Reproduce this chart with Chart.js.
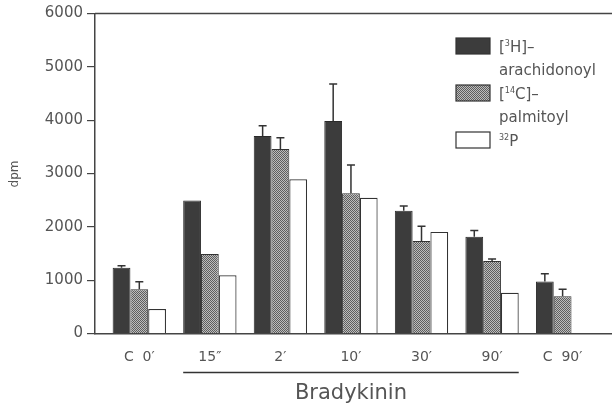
<!DOCTYPE html>
<html>
<head>
<meta charset="utf-8">
<script src="https://cdn.jsdelivr.net/npm/chart.js@4"></script>
<style>
  html, body { margin: 0; padding: 0; background: #fff; }
  #wrap { width: 612px; height: 409px; position: relative; }
</style>
</head>
<body>
<div id="wrap"><canvas id="grafico" width="612" height="409"></canvas></div>
<script>
// Categorias e valores (dpm)
const categorias = ["C  0\u2032", "15\u2033", "2\u2032", "10\u2032", "30\u2032", "90\u2032", "C  90\u2032"];
const arachidonoyl = [1235, 2495, 3705, 3985, 2300, 1815, 975];
const arachidonoylErro = [1270, null, 3895, 4680, 2390, 1930, 1120];
const palmitoyl = [830, 1490, 3460, 2630, 1735, 1360, 700];
const palmitoylErro = [970, null, 3670, 3160, 2010, 1395, 830];
const fosforo = [460, 1090, 2890, 2545, 1905, 765, null];
const yTicks = [0, 1000, 2000, 3000, 4000, 5000, 6000];

const corTexto = '#555';
const fonte = '"DejaVu Sans", sans-serif';

// Textura pontilhada para a série palmitoyl
function criaTextura() {
  const c = document.createElement('canvas');
  c.width = 2; c.height = 2;
  const ctx = c.getContext('2d');
  ctx.fillStyle = '#bdbdbd';
  ctx.fillRect(0, 0, 2, 2);
  ctx.fillStyle = '#5e5e5e';
  ctx.fillRect(0, 0, 1, 1);
  ctx.fillRect(1, 1, 1, 1);
  return ctx.createPattern(c, 'repeat');
}
const textura = criaTextura();

const pontos = arr => arr.map((v, i) => ({ x: i, y: v }));

// Barras de erro (somente para cima) desenhadas com as escalas do gráfico
const barrasErro = {
  id: 'barrasErro',
  afterDatasetsDraw(chart) {
    const ctx = chart.ctx;
    const y = chart.scales.y;
    const erros = [arachidonoylErro, palmitoylErro];
    ctx.save();
    ctx.strokeStyle = '#333';
    ctx.lineWidth = 1.5;
    erros.forEach((lista, d) => {
      const meta = chart.getDatasetMeta(d);
      lista.forEach((e, i) => {
        if (e == null) return;
        const bar = meta.data[i];
        const top = y.getPixelForValue(e);
        ctx.beginPath();
        ctx.moveTo(bar.x, bar.y);
        ctx.lineTo(bar.x, top);
        ctx.moveTo(bar.x - 4, top);
        ctx.lineTo(bar.x + 4, top);
        ctx.stroke();
      });
    });
    ctx.restore();
  }
};

// Moldura superior, legenda e rótulo "Bradykinin"
const extras = {
  id: 'extras',
  afterDraw(chart) {
    const ctx = chart.ctx;
    const a = chart.chartArea;
    const x = chart.scales.x;
    ctx.save();
    ctx.strokeStyle = '#444';
    ctx.lineWidth = 1.5;
    ctx.beginPath();
    ctx.moveTo(a.left, a.top);
    ctx.lineTo(a.right, a.top);
    ctx.stroke();

    // linha sob os tempos de bradicinina
    const meia = 0.378;
    const x1 = x.getPixelForValue(1 - meia);
    const x2 = x.getPixelForValue(5 + meia);
    ctx.strokeStyle = '#333';
    ctx.lineWidth = 1.3;
    ctx.beginPath();
    ctx.moveTo(x1, 372.5);
    ctx.lineTo(x2, 372.5);
    ctx.stroke();
    ctx.fillStyle = corTexto;
    ctx.font = '21px ' + fonte;
    ctx.textAlign = 'center';
    ctx.textBaseline = 'middle';
    ctx.fillText('Bradykinin', (x1 + x2) / 2, 394);

    // eixo y: rótulo
    ctx.save();
    ctx.translate(15, 174);
    ctx.rotate(-Math.PI / 2);
    ctx.font = '12px ' + fonte;
    ctx.fillText('dpm', 0, 0);
    ctx.restore();

    // legenda
    const itens = [
      { fill: '#3c3c3c', sup: '3', pre: '[', post: 'H]\u2013', linha2: 'arachidonoyl', y: 38 },
      { fill: textura, sup: '14', pre: '[', post: 'C]\u2013', linha2: 'palmitoyl', y: 85 },
      { fill: '#fff', sup: '32', pre: '', post: 'P', linha2: null, y: 132 }
    ];
    ctx.textAlign = 'left';
    ctx.textBaseline = 'alphabetic';
    itens.forEach(it => {
      ctx.fillStyle = it.fill;
      ctx.fillRect(456, it.y, 34, 16);
      ctx.strokeStyle = '#333';
      ctx.lineWidth = 1.2;
      ctx.strokeRect(456, it.y, 34, 16);
      ctx.fillStyle = corTexto;
      let tx = 499;
      const base = it.y + 14;
      ctx.font = '15px ' + fonte;
      ctx.fillText(it.pre, tx, base);
      tx += ctx.measureText(it.pre).width;
      ctx.font = '8px ' + fonte;
      ctx.fillText(it.sup, tx, base - 6);
      tx += ctx.measureText(it.sup).width;
      ctx.font = '15px ' + fonte;
      ctx.fillText(it.post, tx, base);
      if (it.linha2) ctx.fillText(it.linha2, 499, base + 23);
    });
    ctx.restore();
  }
};

new Chart(document.getElementById('grafico'), {
  type: 'bar',
  data: {
    datasets: [
      { label: '[3H]-arachidonoyl', data: pontos(arachidonoyl), backgroundColor: '#3c3c3c', borderColor: '#2a2a2a', borderWidth: 1 },
      { label: '[14C]-palmitoyl', data: pontos(palmitoyl), backgroundColor: textura, borderColor: '#333', borderWidth: 1 },
      { label: '32P', data: pontos(fosforo), backgroundColor: '#fff', borderColor: '#333', borderWidth: 1.2 }
    ]
  },
  options: {
    responsive: false,
    animation: false,
    layout: { padding: { top: 13.5, right: 0, left: 0, bottom: 0 } },
    datasets: { bar: { categoryPercentage: 0.756, barPercentage: 1.0 } },
    plugins: {
      legend: { display: false },
      tooltip: { enabled: false }
    },
    scales: {
      x: {
        type: 'linear',
        offset: false,
        min: -0.628,
        max: 6.70,
        afterBuildTicks: s => { s.ticks = categorias.map((c, i) => ({ value: i })); },
        afterFit: s => { s.height = 75.5; },
        grid: { display: false, drawTicks: false, offset: false },
        border: { display: true, color: '#444', width: 1.5 },
        ticks: {
          autoSkip: false,
          maxRotation: 0,
          padding: 15,
          color: corTexto,
          font: { family: fonte, size: 14 },
          callback: v => categorias[v]
        }
      },
      y: {
        min: 0,
        max: 6000,
        afterBuildTicks: s => { s.ticks = yTicks.map(v => ({ value: v })); },
        afterFit: s => { s.width = 95; },
        grid: { drawOnChartArea: false, tickLength: 8, color: '#444', lineWidth: 1.2 },
        border: { display: true, color: '#444', width: 1.5 },
        ticks: {
          padding: 4,
          color: corTexto,
          font: { family: fonte, size: 15 },
          callback: v => String(v)
        }
      }
    }
  },
  plugins: [barrasErro, extras]
});
</script>
</body>
</html>
